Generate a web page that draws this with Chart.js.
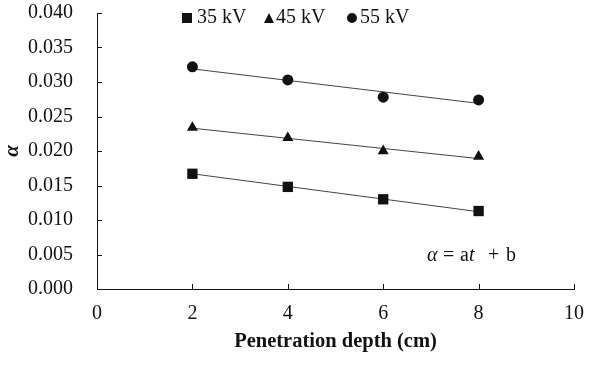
<!DOCTYPE html>
<html>
<head>
<meta charset="utf-8">
<script src="https://cdn.jsdelivr.net/npm/chart.js@4.4.0/dist/chart.umd.min.js"></script>
<style>
  html, body { margin: 0; padding: 0; background: #fff; }
  #wrap { width: 600px; height: 366px; }
</style>
</head>
<body>
<div id="wrap"><canvas id="chart"></canvas></div>
<script>
// penetration depth (cm)
const depths = [2, 4, 6, 8];
const alpha35 = [0.0167, 0.0148, 0.0130, 0.0113];
const alpha45 = [0.0234, 0.0219, 0.0200, 0.0192];
const alpha55 = [0.0322, 0.0303, 0.0278, 0.0274];

// linear trend end points (x = 2 and x = 8)
const trendX = [2, 8];
const trend35 = [0.0167, 0.0112];
const trend45 = [0.0233, 0.0189];
const trend55 = [0.0319, 0.0269];

const xTicks = [0, 2, 4, 6, 8, 10];
const legendLabels = ['35 kV', '45 kV', '55 kV'];

const FONT = "'Liberation Serif', 'Times New Roman', serif";
const INK = '#111';

const pts = (xs, ys) => xs.map((x, i) => ({ x: x, y: ys[i] }));

function markerSet(data, style, radius) {
    return {
        data: data, showLine: false, pointStyle: style, pointRadius: radius,
        pointHoverRadius: radius, backgroundColor: INK, borderColor: INK, borderWidth: 0, order: 1
    };
}
function trendSet(data) {
    return {
        data: data, showLine: true, pointRadius: 0, borderColor: '#444',
        borderWidth: 1, fill: false, order: 2
    };
}

// small inward tick marks on both axes
const innerTicks = {
    id: 'innerTicks',
    afterDatasetsDraw(chart) {
        const { ctx, chartArea, scales } = chart;
        ctx.save();
        ctx.strokeStyle = INK;
        ctx.lineWidth = 1;
        ctx.beginPath();
        scales.x.ticks.forEach(t => {
            const px = Math.round(scales.x.getPixelForValue(t.value)) + 0.5;
            ctx.moveTo(px, chartArea.bottom);
            ctx.lineTo(px, chartArea.bottom - 5);
        });
        scales.y.ticks.forEach(t => {
            const py = Math.round(scales.y.getPixelForValue(t.value)) + 0.5;
            ctx.moveTo(chartArea.left, py);
            ctx.lineTo(chartArea.left + 5, py);
        });
        ctx.stroke();
        ctx.restore();
    }
};

// legend inside the plot + the fit equation
const extras = {
    id: 'extras',
    afterDraw(chart) {
        const { ctx, chartArea, scales } = chart;
        ctx.save();
        ctx.fillStyle = INK;
        ctx.font = '20px ' + FONT;
        ctx.textBaseline = 'middle';
        const ly = chartArea.top + 5;
        const lx = [chartArea.left + 90, chartArea.left + 172, chartArea.left + 255];
        // square
        ctx.fillRect(lx[0] - 5, ly - 5, 10, 10);
        ctx.fillText(legendLabels[0], lx[0] + 10, ly);
        // triangle
        ctx.beginPath();
        ctx.moveTo(lx[1], ly - 5);
        ctx.lineTo(lx[1] + 5, ly + 5);
        ctx.lineTo(lx[1] - 5, ly + 5);
        ctx.closePath();
        ctx.fill();
        ctx.fillText(legendLabels[1], lx[1] + 7, ly);
        // circle
        ctx.beginPath();
        ctx.arc(lx[2], ly, 5, 0, Math.PI * 2);
        ctx.fill();
        ctx.fillText(legendLabels[2], lx[2] + 8, ly);

        // α = at + b  (spaced like an equation editor)
        const x0 = scales.x.getPixelForValue(6.92);
        const y0 = scales.y.getPixelForValue(0.0040);
        ctx.textBaseline = 'alphabetic';
        const parts = [['α', 'italic ', 0], ['=', '', 16], ['a', '', 33], ['t', 'italic ', 42], ['+', '', 61], ['b', '', 79]];
        parts.forEach(([txt, st, dx]) => {
            ctx.font = st + '20px ' + FONT;
            ctx.fillText(txt, x0 + dx, y0);
        });
        ctx.restore();
    }
};

new Chart(document.getElementById('chart'), {
    type: 'scatter',
    data: {
        datasets: [
            markerSet(pts(depths, alpha35), 'rect', 7.3),
            markerSet(pts(depths, alpha45), 'triangle', 6.4),
            markerSet(pts(depths, alpha55), 'circle', 5.5),
            trendSet(pts(trendX, trend35)),
            trendSet(pts(trendX, trend45)),
            trendSet(pts(trendX, trend55))
        ]
    },
    options: {
        responsive: true,
        maintainAspectRatio: false,
        animation: false,
        layout: { padding: { top: 13, right: 26, left: 0, bottom: 0 } },
        plugins: {
            legend: { display: false },
            tooltip: { enabled: false }
        },
        scales: {
            x: {
                type: 'linear',
                min: 0, max: 10,
                afterBuildTicks: s => { s.ticks = xTicks.map(v => ({ value: v })); },
                ticks: { color: INK, font: { family: FONT, size: 20 }, padding: 13, maxRotation: 0 },
                grid: { display: false, drawTicks: false },
                border: { display: true, color: INK, width: 1 },
                title: {
                    display: true, text: 'Penetration depth (cm)', color: INK,
                    font: { family: FONT, size: 20.5, weight: 'bold' },
                    padding: { top: 0, bottom: 12 }
                },
                afterFit: s => { s.height = 77; }
            },
            y: {
                min: 0, max: 0.04,
                ticks: {
                    stepSize: 0.005, color: INK, padding: 24,
                    font: { family: FONT, size: 20 },
                    callback: v => v.toFixed(3)
                },
                grid: { display: false, drawTicks: false },
                border: { display: true, color: INK, width: 1 },
                title: {
                    display: true, text: 'α', color: INK,
                    font: { family: FONT, size: 21, weight: 'bold', style: 'italic' },
                    padding: { top: 0, bottom: 0 }
                },
                afterFit: s => { s.width = 97; s.paddingTop = 0; s.paddingBottom = 0; }
            }
        }
    },
    plugins: [innerTicks, extras]
});
</script>
</body>
</html>
